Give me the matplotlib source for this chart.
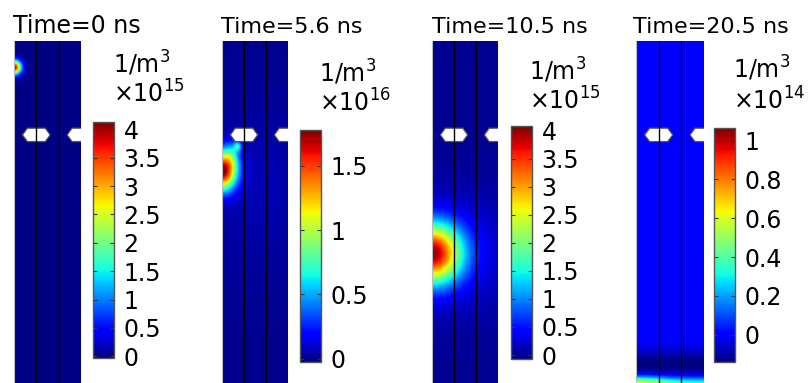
import numpy as np
import matplotlib.pyplot as plt
from matplotlib.patches import Polygon

# Данные: время, порядок величины, диапазон шкалы, деления шкалы
times = ['0', '5.6', '10.5', '20.5']
exponents = [15, 16, 15, 14]
cbar_min = [-0.03, -0.026, -0.07, -0.14]
cbar_max = [4.13, 1.78, 4.08, 1.065]
cbar_ticks = [
    [0, 0.5, 1, 1.5, 2, 2.5, 3, 3.5, 4],
    [0, 0.5, 1, 1.5],
    [0, 0.5, 1, 1.5, 2, 2.5, 3, 3.5, 4],
    [0, 0.2, 0.4, 0.6, 0.8, 1],
]

# Пятна концентрации: (амплитуда, x0, y0, sx, sy), x по ширине 0..3, y сверху вниз
blobs_t0 = [(4.0, 0.0, 1.17, 0.22, 0.22)]
blobs_t1 = [(1.78, 0.0, 5.8, 0.45, 0.6), (0.5, 0.72, 4.7, 0.13, 0.16),
            (0.3, 0.45, 5.1, 0.22, 0.45), (0.06, 1.6, 6.5, 1.5, 2.5)]
blobs_t2 = [(3.7, 0.0, 9.5, 0.92, 0.92), (0.35, 0.8, 9.5, 2.0, 1.8)]
blobs_t3 = [(-0.14, 1.5, 14.45, 100.0, 0.45), (0.28, 0.0, 15.35, 1.0, 0.25),
            (0.36, 1.5, 15.35, 100.0, 0.22)]
all_blobs = [blobs_t0, blobs_t1, blobs_t2, blobs_t3]

# Положение элементов в пикселях (x, y сверху)
img_x = [14, 222, 432, 636]
img_w = [67, 66, 66, 68]
cb_x = [93, 300, 511, 714]
cb_y = [122, 130, 126, 128]
cb_bot = [358, 362, 359, 362]
unit_x = [113, 319, 529, 733]
unit_y1 = [73, 82, 80, 78]
unit_y2 = [103, 112, 110, 110]
title_x = [13, 221, 432, 633]
title_size = [17, 16, 16, 16]

W, H = 809, 383
H_UNITS = 15.3


def box(x, y, w, h):
    return [x / W, 1 - (y + h) / H, w / W, h / H]


def make_field(blobs, nx=240, ny=1200):
    xs = np.linspace(0, 3, nx)
    ys = np.linspace(0, H_UNITS, ny)
    X, Y = np.meshgrid(xs, ys)
    Z = np.zeros_like(X)
    for a, x0, y0, sx, sy in blobs:
        Z += a * np.exp(-((X - x0) ** 2 / (2 * sx ** 2) + (Y - y0) ** 2 / (2 * sy ** 2)))
    return Z


def hexagon(cx, cy, a=0.62, b=0.3, c=0.4):
    return Polygon([(cx - a, cy), (cx - c, cy - b), (cx + c, cy - b),
                    (cx + a, cy), (cx + c, cy + b), (cx - c, cy + b)],
                   closed=True, facecolor='white', edgecolor='#555555', lw=0.9, zorder=3)


fig = plt.figure(figsize=(W / 100, H / 100), dpi=100)

for i in range(4):
    ax = fig.add_axes(box(img_x[i], 41, img_w[i], H - 41))
    Z = make_field(all_blobs[i])
    im = ax.imshow(Z, cmap='jet', vmin=cbar_min[i], vmax=cbar_max[i],
                   extent=[0, 3, H_UNITS, 0], aspect='auto', interpolation='bilinear')
    ax.set_xlim(0, 3)
    ax.set_ylim(H_UNITS, 0)
    ax.add_patch(hexagon(1, 4.2))
    ax.add_patch(hexagon(3, 4.2))
    ax.axvline(1, color='black', lw=1, zorder=4)
    ax.axvline(2, color='black', lw=1, zorder=4)
    ax.set_xticks([])
    ax.set_yticks([])
    for s in ax.spines.values():
        s.set_visible(False)
    ax.spines['left'].set_visible(True)
    ax.spines['left'].set_color('#bbbbbb')

    cax = fig.add_axes(box(cb_x[i], cb_y[i], 21, cb_bot[i] - cb_y[i]))
    cb = fig.colorbar(im, cax=cax)
    cb.set_ticks(cbar_ticks[i])
    cb.set_ticklabels(['%g' % t for t in cbar_ticks[i]])
    cb.outline.set_edgecolor('#555555')
    cb.outline.set_linewidth(1)
    cax.tick_params(axis='y', direction='in', length=3, width=0.8, color='#333333',
                    left=True, right=True, labelsize=17, pad=7)

    fig.text(unit_x[i] / W, 1 - unit_y1[i] / H, '1/m$^3$', fontsize=17, va='baseline')
    fig.text(unit_x[i] / W, 1 - unit_y2[i] / H, '\u00d710$^{%d}$' % exponents[i],
             fontsize=17, va='baseline')

    fig.text(title_x[i] / W, 1 - 33 / H, 'Time=%s ns' % times[i], fontsize=title_size[i],
             va='baseline')

fig.savefig('out.png', dpi=100)
